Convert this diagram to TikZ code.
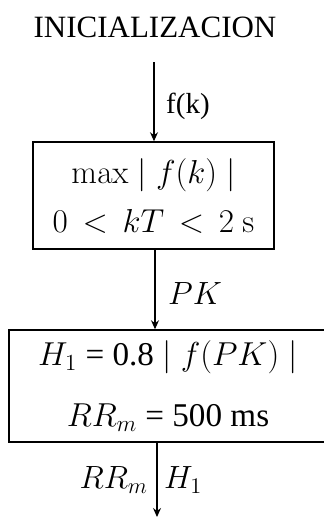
\RequirePackage{fix-cm}
\documentclass[tikz,border=0pt]{standalone}
\usepackage{graphicx}
\usepackage[no-math]{fontspec}
\setmainfont{Liberation Serif}
\usetikzlibrary{arrows.meta}
\newcommand\enl[1]{\scalebox{1.6}{#1}}
\newcommand\enlb[1]{\scalebox{1.55}{#1}}
\begin{document}
\begin{tikzpicture}[x=1pt,y=-1pt,
  flowbox/.style={draw,line width=1.5pt,inner sep=0pt,align=center},
  flowline/.style={line width=1.2pt,-{Stealth[length=9pt,width=8pt]}},
  lbl/.style={inner sep=0pt,font=\fontsize{20.74}{25}\selectfont}]
\useasboundingbox (0,0) rectangle (324,517);
\node[inner sep=0pt,font=\fontsize{31}{36}\selectfont] (title) at (155,27) {INICIALIZACION};
\coordinate (s1) at (154,62);
\node[flowbox,minimum width=241pt,minimum height=107pt,font=\fontsize{20.74}{49}\selectfont] (b1) at (153.5,195.5)
  {\enl{$\max\mid f(k)\mid$}\\ \enl{$0\,<\,kT\,<\,2\ \mathrm{s}$}};
\node[flowbox,minimum width=318pt,minimum height=112pt,font=\fontsize{20.74}{61}\selectfont] (b2) at (168,386)
  {\enl{$H_1$ = 0.8 $\mid f(PK)\mid$}\\ \enl{$RR_m$ = 500 ms}};
\coordinate (e3) at (157,517);
\draw[flowline] (s1) -- (b1.north -| s1);
\draw[flowline] (b1.south -| 155,0) -- (b2.north -| 155,0);
\draw[flowline] (b2.south -| e3) -- (e3);
\node[lbl,anchor=west,font=\fontsize{29}{34}\selectfont] (l1) at (166,106) {f(k)};
\node[lbl,anchor=west] (l2) at (168,294) {\enlb{$PK$}};
\node[lbl,anchor=east] (l3) at (148,480) {\enlb{$RR_m$}};
\node[lbl,anchor=west] (l4) at (164,480) {\enlb{$H_1$}};
\end{tikzpicture}
\end{document}
